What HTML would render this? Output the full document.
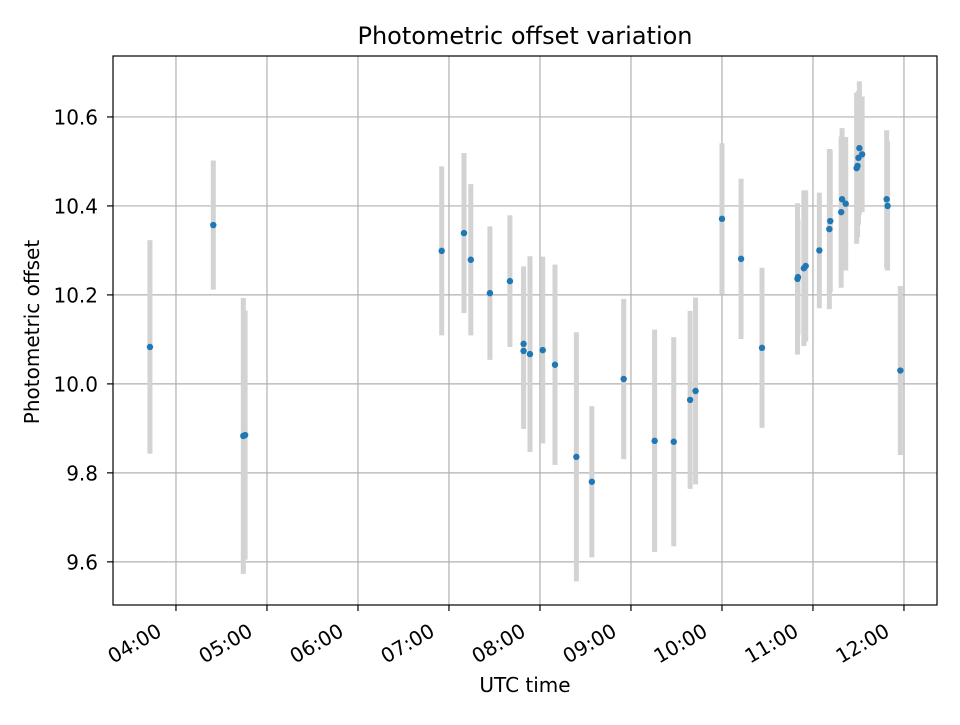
<!DOCTYPE html>
<html><head><meta charset="utf-8"><style>
body{margin:0;background:#fff;}
svg{font-family:"DejaVu Sans","Liberation Sans",sans-serif;}
</style></head><body>
<svg id="chart" width="960" height="720" viewBox="0 0 960 720" xmlns="http://www.w3.org/2000/svg">
<rect width="960" height="720" fill="#fff"/>
<text x="525" y="44" font-size="24" text-anchor="middle">Photometric offset variation</text>
<text x="525" y="692" font-size="20" text-anchor="middle">UTC time</text>
<text transform="translate(39,332) rotate(-90)" font-size="20" text-anchor="middle">Photometric offset</text>
<g id="grid"></g><g id="errs"></g><g id="pts"></g><g id="ticks"></g>
<rect x="113" y="56" width="824" height="549" fill="none" stroke="#000" stroke-width="1.2"/>
</svg>
<script>
const times = [3.714,4.41,4.74,4.76,6.92,7.165,7.24,7.45,7.67,7.82,7.82,7.89,8.03,8.165,8.40,8.57,8.92,9.26,9.47,9.65,9.71,10.0,10.21,10.44,10.83,10.835,10.9,10.92,11.07,11.18,11.19,11.31,11.32,11.36,11.48,11.49,11.5,11.51,11.54,11.81,11.82,11.96];
const values = [10.083,10.357,9.883,9.885,10.299,10.339,10.279,10.204,10.231,10.09,10.074,10.067,10.076,10.043,9.836,9.78,10.011,9.872,9.87,9.964,9.984,10.371,10.281,10.081,10.236,10.24,10.26,10.265,10.30,10.348,10.366,10.386,10.415,10.405,10.485,10.49,10.508,10.53,10.516,10.415,10.40,10.03];
const errors = [0.24,0.145,0.31,0.28,0.19,0.18,0.17,0.15,0.148,0.174,0.175,0.22,0.21,0.225,0.28,0.17,0.18,0.25,0.235,0.2,0.21,0.17,0.18,0.18,0.17,0.13,0.175,0.17,0.13,0.18,0.16,0.17,0.16,0.15,0.17,0.16,0.15,0.15,0.13,0.155,0.145,0.19];
const xTickHours = [4,5,6,7,8,9,10,11,12];
const xTickLabels = ["04:00","05:00","06:00","07:00","08:00","09:00","10:00","11:00","12:00"];
const yTicks = [9.6,9.8,10.0,10.2,10.4,10.6];
const yTickLabels = ["9.6","9.8","10.0","10.2","10.4","10.6"];

const L=113,R=937,T=56,B=605;
const xMin=3.308,xMax=12.363,yMin=9.503,yMax=10.737;
const xs=h=>L+(h-xMin)/(xMax-xMin)*(R-L);
const ys=v=>B-(v-yMin)/(yMax-yMin)*(B-T);
const NS="http://www.w3.org/2000/svg";
function mk(tag,attrs,parent){const e=document.createElementNS(NS,tag);for(const k in attrs)e.setAttribute(k,attrs[k]);document.getElementById(parent).appendChild(e);return e;}

xTickHours.forEach((h,i)=>{
  const x=xs(h);
  const g=mk('line',{x1:x,x2:x,y1:T,y2:B,stroke:'#b0b0b0','stroke-width':1.2},'grid');
  
  
  const t=mk('line',{x1:x,x2:x,y1:B,y2:B+6,stroke:'#000','stroke-width':1.2},'ticks');
  
  
  const ax=x-13, ay=B+30;
  const lb=mk('text',{x:ax,y:ay,'font-size':20,'text-anchor':'end',transform:`rotate(-30 ${ax} ${ay})`},'ticks');
  lb.textContent=xTickLabels[i];
  
  
});
yTicks.forEach((v,i)=>{
  const y=ys(v);
  const g=mk('line',{x1:L,x2:R,y1:y,y2:y,stroke:'#b0b0b0','stroke-width':1.2},'grid');
  
  
  const t=mk('line',{x1:L-6,x2:L,y1:y,y2:y,stroke:'#000','stroke-width':1.2},'ticks');
  
  
  const lb=mk('text',{x:L-15,y:y+7.5,'font-size':20,'text-anchor':'end'},'ticks');
  lb.textContent=yTickLabels[i];
  
  
});
times.forEach((h,i)=>{
  const x=xs(h);
  const e=mk('line',{x1:x,x2:x,y1:ys(values[i]+errors[i]),y2:ys(values[i]-errors[i]),stroke:'#d3d3d3','stroke-width':5},'errs');
  
  
});
times.forEach((h,i)=>{
  const c=mk('circle',{cx:xs(h),cy:ys(values[i]),r:3.2,fill:'#1f77b4'},'pts');
  
  
});
</script>
</body></html>
